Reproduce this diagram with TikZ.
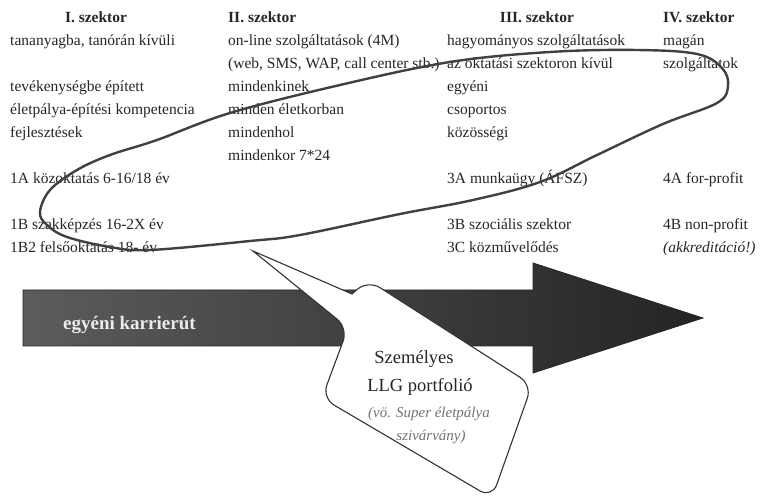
\documentclass[tikz,border=0pt]{standalone}
\usepackage{fontspec}
\setmainfont{Liberation Serif}
\newcommand{\colfont}{\fontsize{15.5}{23}\selectfont}
\newcommand{\bubblefont}{\fontsize{18.5}{28}\selectfont}
\newcommand{\notefont}{\fontsize{15}{22}\selectfont\itshape}
\begin{document}
\begin{tikzpicture}[x=1pt, y=-1pt,
    txt/.style={anchor=base west, inner sep=0pt, font=\colfont, text=black!85},
    head/.style={anchor=base, inner sep=0pt, font=\colfont\bfseries, text=black!85},
    loop/.style={draw=black!75, line width=2.4pt},
    callout/.style={draw=black!80, line width=1.1pt, fill=white}]
    \fill [white] (0,0) rectangle (760,502);

    % I. szektor
    \node [head, name=h1] at (96,23) {I. szektor};
    \node [txt, name=a1] at (10,46) {tananyagba, tanórán kívüli};
    \node [txt, name=a2] at (10,92) {tevékenységbe épített};
    \node [txt, name=a3] at (10,115) {életpálya-építési kompetencia};
    \node [txt, name=a4] at (10,138) {fejlesztések};
    \node [txt, name=a5] at (10,184) {1A közoktatás 6-16/18 év};
    \node [txt, name=a6] at (10,230) {1B szakképzés 16-2X év};
    \node [txt, name=a7] at (10,253) {1B2 felsőoktatás 18- év};

    % II. szektor
    \node [head, anchor=base west, name=h2] at (228,23) {II. szektor};
    \node [txt, name=b1] at (228,46) {on-line szolgáltatások (4M)};
    \node [txt, name=b2] at (228,69) {(web, SMS, WAP, call center stb.)};
    \node [txt, name=b3] at (228,92) {mindenkinek};
    \node [txt, name=b4] at (228,115) {minden életkorban};
    \node [txt, name=b5] at (228,138) {mindenhol};
    \node [txt, name=b6] at (228,161) {mindenkor 7*24};

    % III. szektor
    \node [head, name=h3] at (537,23) {III. szektor};
    \node [txt, name=c1] at (447,46) {hagyományos szolgáltatások};
    \node [txt, name=c2] at (447,69) {az oktatási szektoron kívül};
    \node [txt, name=c3] at (447,92) {egyéni};
    \node [txt, name=c4] at (447,115) {csoportos};
    \node [txt, name=c5] at (447,138) {közösségi};
    \node [txt, name=c6] at (447,184) {3A munkaügy (ÁFSZ)};
    \node [txt, name=c7] at (447,230) {3B szociális szektor};
    \node [txt, name=c8] at (447,253) {3C közművelődés};

    % IV. szektor
    \node [head, anchor=base west, name=h4] at (663,23) {IV. szektor};
    \node [txt, name=d1] at (663,46) {magán};
    \node [txt, name=d2] at (663,69) {szolgáltatok};
    \node [txt, name=d3] at (663,184) {4A for-profit};
    \node [txt, name=d4] at (663,230) {4B non-profit};
    \node [txt, font=\colfont\itshape, name=d5] at (663,253) {(akkreditáció!)};

    % hurok
    \draw [loop] plot [smooth cycle, tension=0.6] coordinates {
      (40,212) (50,190) (77,170) (110,155) (157,140) (230,113) (340,85)
      (450,62) (550,52) (637,50) (697,54) (722,68) (728,86) (717,103)
      (663,124) (597,155) (540,182) (473,200) (400,214) (300,235)
      (250,241) (150,250) (110,247) (67,237) (47,225)};

    % nyil
    \shade [left color=black!64, right color=black!86, draw=black!85, line width=0.8pt]
      (23,290) -- (533,290) -- (533,263) -- (703,318) -- (533,373) -- (533,346) -- (23,346) -- cycle;
    \node [anchor=base west, inner sep=0pt, font=\fontsize{19}{23}\selectfont\bfseries, text=black!8, name=ut] at (63,330) {egyéni karrierút};

    % portfolio
    \draw [callout] (352,294) [rounded corners=14pt] -- (368,280) -- (532,385) -- (492,498) -- (322,398) -- (348,328) [sharp corners] -- (253,251) -- cycle;
    \node [anchor=base, inner sep=0pt, font=\bubblefont, text=black!85, name=p1] at (414,363) {Személyes};
    \node [anchor=base, inner sep=0pt, font=\bubblefont, text=black!85, name=p2] at (420,391) {LLG portfolió};
    \node [anchor=base, inner sep=0pt, font=\notefont, text=black!55, name=p3] at (429,417) {(vö. Super életpálya};
    \node [anchor=base, inner sep=0pt, font=\notefont, text=black!55, name=p4] at (431,440) {szivárvány)};
  \end{tikzpicture}
\end{document}
